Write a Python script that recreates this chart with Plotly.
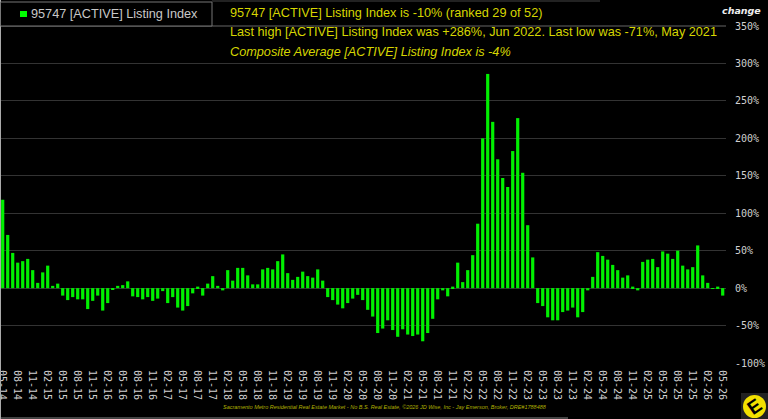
import plotly.graph_objects as go

# Year-over-year change of the active listing index, monthly from 05-14 through 05-26
first_year = 14
first_month = 5
change_pct = [
    118, 71, 47, 34, 36, 39, 24, 7, 21, 30, 3, 6, -10, -16, -12, -15, -15, -28, -17, -10,
    -30, -20, -2, 3, 4, 9, -11, -12, -15, -12, -17, -14, -4, -20, -12, -26, -30, -24, -7, 2,
    -10, 6, 16, 3, -3, 24, 10, 27, 27, 17, 5, 5, 25, 27, 25, 36, 45, 20, 11, 15,
    22, 16, 14, 25, 10, -12, -16, -22, -27, -20, -14, -9, -16, -29, -38, -60, -54, -43, -56, -65,
    -55, -62, -64, -62, -71, -60, -41, -15, -3, -11, 2, 34, 8, 24, 44, 86, 200, 286, 222, 172,
    147, 135, 183, 227, 154, 84, 41, -20, -24, -39, -43, -43, -32, -30, -26, -39, -32, -3, 15, 48,
    43, 38, 31, 24, 14, 17, 2, -3, 35, 38, 39, 28, 49, 46, 39, 50, 30, 25, 28, 57,
    17, 7, -1, 2, -10,
]
months = []
for i in range(len(change_pct)):
    m = first_month - 1 + i
    months.append(f"{m % 12 + 1:02d}-{first_year + m // 12:02d}")
x_ticks = months[::3]

y_ticks = [350, 300, 250, 200, 150, 100, 50, 0, -50, -100]
y_tick_text = [f"{v}%" for v in y_ticks]

series_name = "95747 [ACTIVE] Listing Index"
headline = "95747 [ACTIVE] Listing Index is -10% (ranked 29 of 52)"
high_low = "Last high [ACTIVE] Listing Index was +286%, Jun 2022. Last low was -71%, May 2021"
composite = "Composite Average [ACTIVE] Listing Index is -4%"
footer = ("Sacramento Metro Residential Real Estate Market - No B.S. Real Estate, "
          "©2026 JD Wise, Inc - Jay Emerson, Broker, DRE#1788488")

W, H = 768, 419
PLOT_R, PLOT_T, PLOT_B = 726, 26, 363
LABEL_FONT = "Liberation Sans, Arial, sans-serif"
MONO_FONT = "DejaVu Sans Mono, monospace"
YELLOW = "#d6d600"


def px_x(v):
    return v / W


def px_y(v):
    return 1 - v / H


def note(text, x, y, **kw):
    font = kw.pop("font", {})
    return dict(text=text, x=px_x(x), y=px_y(y), xref="paper", yref="paper",
                xanchor=kw.pop("xanchor", "left"), yanchor="middle", showarrow=False,
                font={"family": LABEL_FONT, "size": 12.7, "color": YELLOW, **font}, **kw)


def hline(y, x0, x1, color, width=1):
    return dict(type="line", xref="paper", yref="paper", x0=px_x(x0), x1=px_x(x1),
                y0=px_y(y), y1=px_y(y), line=dict(color=color, width=width), layer="below")


fig = go.Figure(go.Bar(
    x=months, y=change_pct, name=series_name, marker=dict(color="#00f000", line_width=0),
    showlegend=False,
))

fig.update_layout(
    width=W, height=H, margin=dict(l=0, r=0, t=0, b=0, autoexpand=False),
    paper_bgcolor="black", plot_bgcolor="black", bargap=0.36,
    xaxis=dict(
        domain=[0, PLOT_R / W], type="category", categoryorder="array", categoryarray=months,
        range=[-0.54, 144.66], tickmode="array", tickvals=x_ticks, ticktext=x_ticks,
        tickangle=90, tickfont=dict(family=MONO_FONT, size=10, color="#d0d0d0"),
        ticks="", showgrid=False, zeroline=False, showline=False, ticklabelstandoff=6,
    ),
    yaxis=dict(
        domain=[1 - PLOT_B / H, 1 - PLOT_T / H], side="right", range=[-100, 350],
        tickmode="array", tickvals=y_ticks, ticktext=y_tick_text,
        tickfont=dict(family=MONO_FONT, size=10, color="#d0d0d0"),
        ticks="", showgrid=True, gridcolor="#333333", gridwidth=1, zeroline=False,
        showline=False, ticklabelstandoff=8,
    ),
    shapes=[
        hline(26, 0, PLOT_R, "#666666"),
        hline(1, 212, 600, "#444444"),
        hline(418, 0, 568, "#888888"),
        dict(type="line", xref="paper", yref="paper", x0=px_x(0.5), x1=px_x(0.5), y0=0, y1=1,
             line=dict(color="#aaaaaa", width=1)),
        # Key box with the series swatch
        dict(type="rect", xref="paper", yref="paper", x0=px_x(0.5), x1=px_x(212), y0=px_y(26),
             y1=px_y(2), fillcolor="black", line=dict(color="#777777", width=1)),
        dict(type="rect", xref="paper", yref="paper", x0=px_x(20), x1=px_x(27), y0=px_y(17),
             y1=px_y(11), fillcolor="#00ff00", line_width=0),
        # Badge in the lower right corner
        dict(type="rect", xref="paper", yref="paper", x0=px_x(741), x1=1, y0=0, y1=px_y(393),
             fillcolor="#222222", line_width=0),
        dict(type="circle", xref="paper", yref="paper", x0=px_x(743), x1=px_x(766),
             y0=px_y(418), y1=px_y(395), fillcolor="#f2e000", line_width=0),
    ],
    annotations=[
        note(series_name, 28.5, 14, font=dict(color="#c8c8c8")),
        note(headline, 227.5, 13),
        note(high_low, 227.5, 32),
        note(f"<i>{composite}</i>", 227.5, 52),
        note(f"<i>{footer}</i>", 220.5, 407, font=dict(size=5.5, color="#b0b000")),
        note("<b><i>change</i></b>", 720, 11,
             font=dict(family="DejaVu Sans, sans-serif", size=9.5, color="#eeeeee")),
        note("<b>E</b>", 754.5, 406.5, xanchor="center", textangle=-35,
             font=dict(family=LABEL_FONT, size=19, color="black")),
    ],
)

fig.write_html("out.html")
